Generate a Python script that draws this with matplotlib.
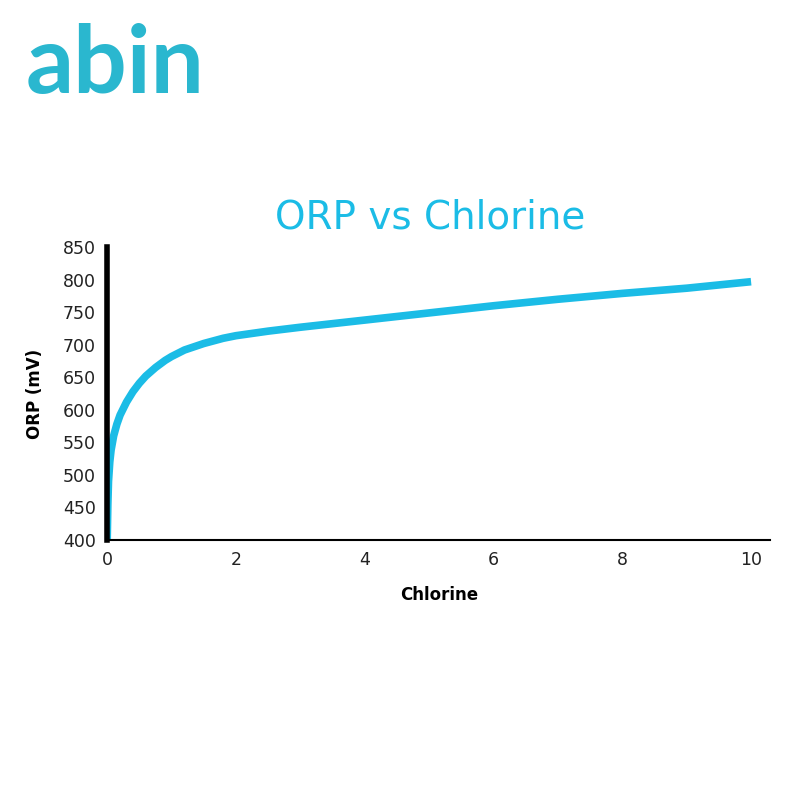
import matplotlib
matplotlib.use("Agg")
import matplotlib.pyplot as plt

chlorine = [0, 0.01, 0.02, 0.04, 0.06, 0.1, 0.15, 0.2, 0.3, 0.4, 0.5, 0.6, 0.75, 0.9, 1.0, 1.2, 1.5, 1.8, 2, 2.5, 3, 4, 5, 6, 7, 8, 9, 10]
orp = [400, 455, 490, 520, 538, 560, 578, 592, 612, 628, 641, 652, 665, 676, 682, 692, 702, 710, 714, 721, 727, 738, 749, 760, 770, 779, 787, 797]
yticks = [400, 450, 500, 550, 600, 650, 700, 750, 800, 850]
xticks = [0, 2, 4, 6, 8, 10]

cyan = "#1bbce6"
fig = plt.figure(figsize=(8, 8), dpi=100)
ax = fig.add_axes([0.134, 0.325, 0.829, 0.366])
ax.plot(chlorine, orp, color=cyan, lw=5.5, solid_capstyle="butt", solid_joinstyle="round")
ax.set_xlim(0, 10.3)
ax.set_ylim(400, 850)
ax.set_xticks(xticks)
ax.set_yticks(yticks)
ax.tick_params(length=0, labelsize=12.5, pad=8, colors="#222222")
for s in ["top", "right"]:
    ax.spines[s].set_visible(False)
ax.spines["left"].set_linewidth(4)
ax.spines["bottom"].set_linewidth(1.5)
ax.set_xlabel("Chlorine", fontsize=12, fontweight="bold", labelpad=12)
ax.set_ylabel("ORP (mV)", fontsize=12, fontweight="bold", labelpad=14)
fig.text(0.538, 0.728, "ORP vs Chlorine", color=cyan, fontsize=28, ha="center", va="center")
fig.text(0.032, 0.918, "abin", color="#2ab7cf", fontsize=68, fontweight="bold", family="Lato", ha="left", va="center")
fig.savefig("out.png")
